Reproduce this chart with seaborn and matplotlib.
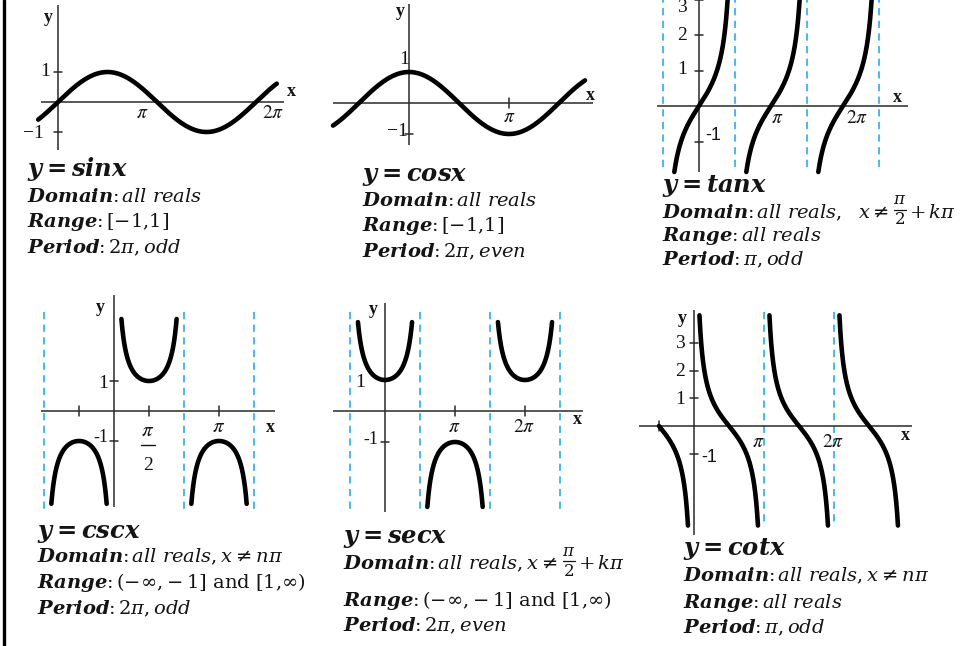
import numpy as np
import matplotlib
matplotlib.use("Agg")
import matplotlib.pyplot as plt
import seaborn as sns
from matplotlib.lines import Line2D

W, H = 972, 646
PI = np.pi

# ---- function pieces (x in multiples of pi) ----
sin_span = [(-0.20, 2.21)]
cos_span = [(-0.76, 1.76)]
tan_branches = [(-0.5, 0.5), (0.5, 1.5), (1.5, 2.5)]
tan_limits = (-1.86, 3.3)
csc_branches = [(-1.0, 0.0), (0.0, 1.0), (1.0, 2.0)]
csc_limits = (-3.1, 3.07)
sec_branches = [(-0.5, 0.5), (0.5, 1.5), (1.5, 2.5)]
sec_limits = (-3.1, 2.87)
cot_branches = [(-0.5, 0.0), (0.0, 1.0), (1.0, 2.0), (2.0, 3.0)]
cot_limits = (-3.6, 4.0)

# vertical asymptotes (multiples of pi)
tan_asym = [-0.5, 0.5, 1.5, 2.5]
csc_asym = [-1.0, 1.0, 2.0]
sec_asym = [-0.5, 0.5, 1.5, 2.5]
cot_asym = [1.0, 2.0]

# ---- descriptive text ----
titles = [r"$\mathbfit{y = sinx}$", r"$\mathbfit{y = cosx}$", r"$\mathbfit{y = tanx}$",
          r"$\mathbfit{y = cscx}$", r"$\mathbfit{y = secx}$", r"$\mathbfit{y = cotx}$"]
# (text before an optional pi/2 fraction, text after it)
domains = [(r"$\mathbfit{Domain}$:$\,\mathit{all\ reals}$", None),
           (r"$\mathbfit{Domain}$:$\,\mathit{all\ reals}$", None),
           (r"$\mathbfit{Domain}$:$\,\mathit{all\ reals,}\ \ x\neq$", r"$+\,k\pi$"),
           (r"$\mathbfit{Domain}$:$\,\mathit{all\ reals,}x\neq n\pi$", None),
           (r"$\mathbfit{Domain}$:$\,\mathit{all\ reals,}x\neq$", r"$+\,k\pi$"),
           (r"$\mathbfit{Domain}$:$\,\mathit{all\ reals,}x\neq n\pi$", None)]
ranges = [r"$\mathbfit{Range}$:$\,[-1{,}1]$",
          r"$\mathbfit{Range}$:$\,[-1{,}1]$",
          r"$\mathbfit{Range}$:$\,\mathit{all\ reals}$",
          r"$\mathbfit{Range}$:$\,(-\infty{,}-1]\ \mathrm{and}\ [1{,}\infty)$",
          r"$\mathbfit{Range}$:$\,(-\infty{,}-1]\ \mathrm{and}\ [1{,}\infty)$",
          r"$\mathbfit{Range}$:$\,\mathit{all\ reals}$"]
periods = [r"$\mathbfit{Period}$:$\,2\pi,\mathit{odd}$",
           r"$\mathbfit{Period}$:$\,2\pi,\mathit{even}$",
           r"$\mathbfit{Period}$:$\,\pi,\mathit{odd}$",
           r"$\mathbfit{Period}$:$\,2\pi,\mathit{odd}$",
           r"$\mathbfit{Period}$:$\,2\pi,\mathit{even}$",
           r"$\mathbfit{Period}$:$\,\pi,\mathit{odd}$"]

sns.set_theme(style="white")
plt.rcParams["font.family"] = ["DejaVu Serif", "Liberation Serif"]

fig = plt.figure(figsize=(W / 100, H / 100), dpi=100)
fig.patch.set_facecolor("white")
renderer = fig.canvas.get_renderer()

INK = "#141414"
AXIS = "#2a2a2a"
DASH = "#3db3e3"
CURVE_LW = 3.3
DESC = 14


def T(px, py, s, size=13, ha="center", va="center", **kw):
    return fig.text(px / W, 1 - py / H, s, fontsize=size, ha=ha, va=va, color=INK, **kw)


def panel(origin, pi_px, unit):
    ox, oy = origin
    sx = pi_px / PI
    ax = fig.add_axes([0, 0, 1, 1])
    ax.set_xlim(-ox / sx, (W - ox) / sx)
    ax.set_ylim((oy - H) / unit, oy / unit)
    ax.set_axis_off()
    ax.patch.set_alpha(0)
    ax._sx, ax._unit = sx, unit
    return ax


def axes_lines(ax, xr, yr):
    ax.plot([xr[0] * PI, xr[1] * PI], [0, 0], color=AXIS, lw=1.1, solid_capstyle="butt")
    ax.plot([0, 0], [yr[0], yr[1]], color=AXIS, lw=1.1, solid_capstyle="butt")


def xticks(ax, vals, half=5):
    for v in vals:
        ax.plot([v * PI] * 2, [-half / ax._unit, half / ax._unit], color=AXIS, lw=1.1)


def yticks(ax, vals, half=4):
    for v in vals:
        ax.plot([-half / ax._sx, half / ax._sx], [v, v], color=AXIS, lw=1.1)


def asymptotes(ax, vals, yr):
    for v in vals:
        ax.plot([v * PI] * 2, yr, color=DASH, lw=1.3, dashes=(4, 3))


def curve(ax, func, spans, limits=None):
    for a, b in spans:
        x = np.linspace(a * PI + 1e-4, b * PI - 1e-4, 3000)
        y = func(x)
        if limits is not None:
            keep = (y >= limits[0]) & (y <= limits[1])
            x, y = x[keep], y[keep]
        sns.lineplot(x=x, y=y, ax=ax, color="black", linewidth=CURVE_LW,
                     sort=False, estimator=None, legend=False)


SERIF = "Liberation Serif"


def bold_lbl(px, py, s):
    T(px, py, s, size=13, fontweight="bold", family=SERIF)


def num(px, py, s, size=14, family=SERIF):
    T(px, py, s, size=size, family=family)


def pi_lbl(px, py, s, size=14):
    T(px, py, s, size=size, math_fontfamily="stix")


def stacked_fraction(cx, ybar, top, bottom, size=12, half=6):
    T(cx, ybar - 10, top, size=size, math_fontfamily="dejavuserif")
    fig.add_artist(Line2D([(cx - half) / W, (cx + half) / W], [1 - ybar / H] * 2,
                          color=INK, lw=0.9))
    T(cx, ybar + 10, bottom, size=size, family="DejaVu Serif")


# ---------- y = sin x ----------
ax = panel((58, 102), 99, 30)
axes_lines(ax, (-0.17, 2.28), (-1.6, 3.23))
yticks(ax, [1, -1])
curve(ax, np.sin, sin_span)
bold_lbl(48, 18, "y"); bold_lbl(291, 92, "x")
num(45, 71, "1"); num(33, 133, "\u22121")
pi_lbl(142, 113, r"$\pi$"); pi_lbl(273, 113, r"$2\pi$")

# ---------- y = cos x ----------
ax = panel((409, 103), 100, 31)
axes_lines(ax, (-0.76, 1.84), (-1.35, 3.2))
xticks(ax, [1]); yticks(ax, [-1])
curve(ax, np.cos, cos_span)
bold_lbl(400, 12, "y"); bold_lbl(590, 95, "x")
num(404, 60, "1"); num(397, 132, "\u22121")
pi_lbl(509, 117, r"$\pi$")

# ---------- y = tan x ----------
ax = panel((699, 106), 72, 35.5)
asymptotes(ax, tan_asym, [-1.72, 3.1])
axes_lines(ax, (-0.58, 2.9), (-1.86, 3.1))
yticks(ax, [1, 2, 3, -1])
curve(ax, np.tan, tan_branches, tan_limits)
bold_lbl(897, 97, "x")
for v, py in [(3, 8), (2, 35), (1, 70)]:
    num(682, py, str(v))
num(713, 135, "-1", size=13, family="Liberation Sans")
pi_lbl(777, 118, r"$\pi$"); pi_lbl(857, 118, r"$2\pi$")

# ---------- y = csc x ----------
ax = panel((114, 411), 70, 30)
asymptotes(ax, csc_asym, [3.3, -3.3])
axes_lines(ax, (-1.04, 2.3), (-3.2, 3.87))
xticks(ax, [-0.5, 0.5, 1.5]); yticks(ax, [1, -1])
curve(ax, lambda x: 1 / np.sin(x), csc_branches, csc_limits)
bold_lbl(100, 308, "y"); bold_lbl(270, 427, "x")
num(103, 384, "1"); num(101, 437, "-1", size=13)
pi_lbl(148, 431, r"$\pi$", size=15)
fig.add_artist(Line2D([141 / W, 155 / W], [1 - 445 / H] * 2, color=INK, lw=1.0))
num(148, 466, "2")
pi_lbl(219, 426, r"$\pi$", size=15)

# ---------- y = sec x ----------
ax = panel((385, 411), 70, 31)
asymptotes(ax, sec_asym, [3.2, -3.26])
axes_lines(ax, (-0.74, 2.83), (-3.26, 3.48))
xticks(ax, [1, 2]); yticks(ax, [-1])
curve(ax, lambda x: 1 / np.cos(x), sec_branches, sec_limits)
bold_lbl(373, 309, "y"); bold_lbl(577, 419, "x")
num(360, 382, "1"); num(371, 439, "-1", size=13)
pi_lbl(454, 427, r"$\pi$"); pi_lbl(524, 427, r"$2\pi$")

# ---------- y = cot x ----------
ax = panel((694, 426), 70, 27.7)
asymptotes(ax, cot_asym, [4.1, -3.65])
axes_lines(ax, (-0.79, 3.11), (-3.93, 4.19))
xticks(ax, [-0.5]); yticks(ax, [1, 2, 3, -1])
curve(ax, lambda x: 1 / np.tan(x), cot_branches, cot_limits)
bold_lbl(682, 319, "y"); bold_lbl(905, 435, "x")
for v, py in [(3, 343), (2, 371), (1, 399)]:
    num(680, py, str(v))
num(709, 457, "-1", size=13, family="Liberation Sans")
pi_lbl(758, 442, r"$\pi$"); pi_lbl(833, 442, r"$2\pi$")

# ---------- descriptions ----------
text_pos = [  # x, title baseline, domain, range, period baselines
    (27, 176, 202, 227, 253),
    (362, 181, 206, 231, 257),
    (662, 192, 218, 241, 265),
    (37, 538, 562, 588, 614),
    (343, 543, 569, 606, 631),
    (683, 555, 581, 608, 633),
]
for i, (px, yt, yd, yr, yp) in enumerate(text_pos):
    T(px, yt, titles[i], size=17.5, ha="left", va="baseline", math_fontfamily="dejavuserif")
    head, tail = domains[i]
    t = T(px, yd, head, size=DESC, ha="left", va="baseline", math_fontfamily="dejavuserif")
    if tail is not None:
        x_end = t.get_window_extent(renderer).x1
        cx = x_end + 11
        stacked_fraction(cx, yd - 8, r"$\pi$", "2")
        T(cx + 9, yd, tail, size=DESC, ha="left", va="baseline",
          math_fontfamily="dejavuserif")
    T(px, yr, ranges[i], size=DESC, ha="left", va="baseline", math_fontfamily="dejavuserif")
    T(px, yp, periods[i], size=DESC, ha="left", va="baseline", math_fontfamily="dejavuserif")

# left frame rule
fig.add_artist(Line2D([3.5 / W] * 2, [0, 1], color="black", lw=2.4))

fig.savefig("out.png", dpi=100, facecolor="white")
